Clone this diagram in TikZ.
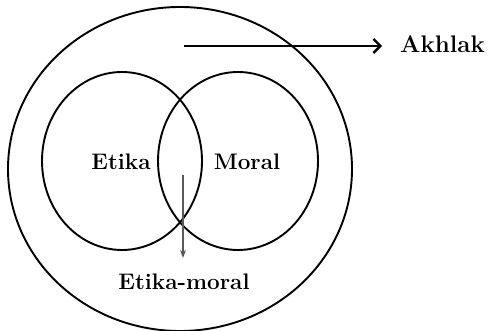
\documentclass[tikz,border=0pt]{standalone}
\usetikzlibrary{positioning, arrows.meta, shapes.geometric}

\begin{document}
\begin{tikzpicture}[
  x=1pt, y=1pt,
  ring/.style={draw, ellipse, line width=1.9pt, inner sep=0pt},
  word/.style={font=\fontsize{22.5}{26}\selectfont\bfseries, inner sep=2pt},
  bigflow/.style={-{Straight Barb[length=7pt, width=14pt]}, line width=2.3pt},
  smallflow/.style={-{Stealth[length=8pt, width=6pt]}, black!65, line width=1.1pt}
]
  \useasboundingbox (0,0) rectangle (489,331);

  % outer ring
  \node[ring, minimum width=344pt, minimum height=324pt] (akhlakring) at (180,162) {};

  % the two overlapping rings
  \node[ring, minimum width=160pt, minimum height=178pt] (etikaring) at (122,170) {};
  \node[ring, minimum width=160pt, minimum height=178pt] (moralring) at (238,170) {};

  % labels
  \node[word] (etika) at (121,169) {Etika};
  \node[word] (moral) at (247,169) {Moral};
  \node[word] (etikamoral) at (184,49) {Etika-moral};
  \node[word, font=\fontsize{24}{28}\selectfont\bfseries, anchor=west] (akhlak) at (398,287) {Akhlak};

  % arrows
  \coordinate (akhlakstart) at (184,285);
  \draw[bigflow, shorten >=16pt] (akhlakstart) -- (akhlakstart -| akhlak.west);
  \coordinate (overlap) at (183,156);
  \draw[smallflow, shorten >=14pt] (overlap) -- (overlap |- etikamoral.north);
\end{tikzpicture}
\end{document}
